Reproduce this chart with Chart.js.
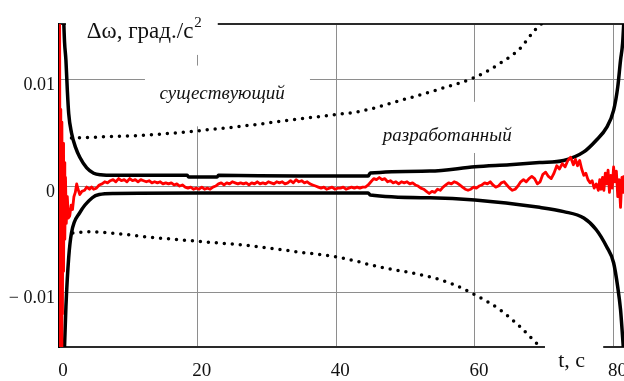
<!DOCTYPE html>
<html>
<head>
<meta charset="utf-8">
<script src="https://cdn.jsdelivr.net/npm/chart.js@4"></script>
<style>
  html, body { margin: 0; padding: 0; background: #fff; }
  canvas { display: block; }
</style>
</head>
<body>
<canvas id="c" width="624" height="381"></canvas>
<script>
// --- axis ticks ---
var xTicks = [0, 20, 40, 60, 80];
var yTicks = [-0.01, 0, 0.01];

// --- "разработанный": upper / lower bounds (solid black) ---
var devUpT = [0.6, 0.8, 1.0, 1.2, 1.4, 1.8, 2.4, 3.0, 4.0, 5.0, 6.0, 8.0, 12, 18.5, 18.7, 22.8, 23.0, 34.7, 44.6, 44.9, 53.5, 60.0, 65.0, 69.3, 72.8, 75.7, 77.5, 79.0, 80.0, 80.6, 81.0, 81.3, 81.6];
var devUpV = [0.0170, 0.0135, 0.0118, 0.0090, 0.0068, 0.0050, 0.0036, 0.0027, 0.0017, 0.0012, 0.00105, 0.0010, 0.00100, 0.00100, 0.00084, 0.00084, 0.00100, 0.00094, 0.00094, 0.00122, 0.00140, 0.00180, 0.00200, 0.00220, 0.00240, 0.00320, 0.00430, 0.00550, 0.00710, 0.00930, 0.01180, 0.01340, 0.0170];
var devLoT = [0.7, 1.0, 1.4, 1.8, 3.0, 4.8, 5.8, 8.0, 20.0, 44.6, 44.9, 53.5, 60.0, 69.3, 72.8, 75.7, 77.5, 79.0, 80.0, 80.6, 81.0, 81.3, 81.6];
var devLoV = [-0.0170, -0.0113, -0.0067, -0.0044, -0.0025, -0.0011, -0.0008, -0.0007, -0.00066, -0.00066, -0.00084, -0.0011, -0.0013, -0.0020, -0.0024, -0.0030, -0.0041, -0.0057, -0.0072, -0.0095, -0.0116, -0.0142, -0.0170];

// --- "существующий": upper / lower bounds (dotted black) ---
var exUpT = [1.8, 5.9, 13.1, 20.3, 27.5, 34.7, 39.9, 43.4, 49.1, 54.9, 60.0, 63.6, 66.5, 68.6, 70.3];
var exUpV = [0.0045, 0.0046, 0.0048, 0.0052, 0.0057, 0.0063, 0.0067, 0.0070, 0.0080, 0.0091, 0.0102, 0.0115, 0.0129, 0.0146, 0.0156];
var exLoT = [2.0, 4.4, 7.3, 13.1, 20.3, 27.5, 34.7, 40.5, 46.3, 52.0, 56.4, 60.0, 63.6, 66.5, 69.1];
var exLoV = [-0.0044, -0.0043, -0.0044, -0.0048, -0.0052, -0.0056, -0.0062, -0.0067, -0.0076, -0.0083, -0.0091, -0.0102, -0.0116, -0.0132, -0.0149];

// --- measured error (red) ---
var errT = [0.00, 0.06, 0.12, 0.18, 0.26, 0.34, 0.42, 0.50, 0.58, 0.66, 0.74, 0.84, 0.94, 1.05, 1.20, 1.35, 1.55, 1.75, 1.95, 2.15, 2.35, 2.55, 2.75, 3.0, 3.3, 3.7, 4.0, 4.4, 4.7, 5.0, 5.4, 5.8,
  6.2, 6.6, 7.0, 7.4, 7.8, 8.2, 8.6, 9.0, 9.4, 9.8, 10.2, 10.6, 11.0, 11.4, 11.8, 12.2, 12.6, 13.0, 13.4, 13.8, 14.2, 14.6, 15.0, 15.4, 15.8, 16.2, 16.6, 17.0, 17.4, 17.8,
  18.2, 18.6, 19.0, 19.4, 19.8, 20.2, 20.6, 21.0, 21.4, 21.8, 22.2, 22.6, 23.0, 23.4, 23.8, 24.2, 24.6, 25.0, 25.4, 25.8, 26.2, 26.6, 27.0, 27.4, 27.8, 28.2, 28.6, 29.0, 29.4, 29.8,
  30.2, 30.6, 31.0, 31.4, 31.8, 32.2, 32.6, 33.0, 33.4, 33.8, 34.2, 34.6, 35.0, 35.4, 35.8, 36.2, 36.6, 37.0, 37.4, 37.8, 38.2, 38.6, 39.0, 39.4, 39.8, 40.2, 40.6, 41.0, 41.4, 41.8,
  42.2, 42.6, 43.0, 43.4, 43.8, 44.2, 44.6, 45.0, 45.4, 45.8, 46.2, 46.6, 47.0, 47.4, 47.8, 48.2, 48.6, 49.0, 49.4, 49.8, 50.2, 50.6, 51.0, 51.4, 51.8, 52.2, 52.6, 53.0, 53.4, 53.8,
  54.2, 54.6, 55.0, 55.4, 55.8, 56.2, 56.6, 57.0, 57.4, 57.8, 58.2, 58.6, 59.0, 59.4, 59.8, 60.2, 60.6, 61.0, 61.4, 61.8, 62.2, 62.6, 63.0, 63.4, 63.8, 64.2, 64.6, 65.0, 65.4, 65.8,
  66.2, 66.6, 67.0, 67.4, 67.8, 68.2, 68.6, 69.0, 69.4, 69.8, 70.2, 70.6, 71.0, 71.4, 71.8, 72.2, 72.6, 73.0, 73.4, 73.8, 74.2, 74.5, 74.8, 75.1, 75.4, 75.7, 76.0, 76.3, 76.6, 76.9,
  77.2, 77.5, 77.8, 78.0, 78.2, 78.4, 78.6, 78.8, 79.0, 79.2, 79.4, 79.6, 79.8, 80.0, 80.2, 80.4, 80.6, 80.8, 81.0, 81.2, 81.4, 81.5];
var errV = [0.0165, -0.0165, 0.0160, -0.0165, 0.0072, -0.0165, 0.0060, -0.0120, 0.0040, -0.0080, 0.0022, -0.0050, 0.0008, -0.0035, -0.0010, -0.0030, -0.0028, -0.0018, -0.0022, -0.0010, -0.0006, 0.0002, -0.0003, -0.0008, -0.0005, -0.0004, -0.0001, -0.0003, -0.0001, -0.0003, -0.0002, 0.0001,
  0.0002, 0.0004, 0.0003, 0.0005, 0.0006, 0.0004, 0.0007, 0.0005, 0.0006, 0.0004, 0.0007, 0.0005, 0.0006, 0.0004, 0.0006, 0.0005, 0.0004, 0.0005, 0.0003, 0.0004, 0.0003, 0.0004, 0.0002, 0.0003, 0.0002, 0.0003, 0.0001, 0.0002, 0.0000, 0.0001,
  -0.0001, -0.0002, -0.0001, -0.0003, -0.0002, -0.0003, -0.0001, -0.0003, -0.0002, -0.0003, -0.0001, 0.0000, 0.0002, 0.0003, 0.0001, 0.0003, 0.0002, 0.0004, 0.0003, 0.0002, 0.0003, 0.0002, 0.0003, 0.0001, 0.0003, 0.0002, 0.0004, 0.0002, 0.0003, 0.0002,
  0.0004, 0.0003, 0.0002, 0.0004, 0.0003, 0.0004, 0.0002, 0.0003, 0.0005, 0.0003, 0.0006, 0.0004, 0.0005, 0.0003, 0.0004, 0.0002, 0.0001, 0.0000, -0.0001, -0.0002, -0.0001, -0.0003, -0.0002, -0.0001, -0.0003, -0.0002, -0.0002, -0.0001, -0.0003, -0.0002,
  -0.0001, -0.0002, -0.0001, -0.0002, -0.0001, -0.0001, 0.0001, 0.0004, 0.0007, 0.0006, 0.0008, 0.0006, 0.0007, 0.0004, 0.0005, 0.0003, 0.0004, 0.0002, 0.0004, 0.0003, 0.0004, 0.0002, 0.0003, 0.0001, 0.0000, -0.0002, -0.0003, -0.0005, -0.0007, -0.0005,
  -0.0006, -0.0003, -0.0004, -0.0001, 0.0001, 0.0003, 0.0002, 0.0004, 0.0003, 0.0001, -0.0001, -0.0003, -0.0004, -0.0003, -0.0001, -0.0002, 0.0000, 0.0001, 0.0003, 0.0002, 0.0004, 0.0001, -0.0001, 0.0000, 0.0003, 0.0004, 0.0001, -0.0002, -0.0004, -0.0003,
  0.0000, 0.0004, 0.0006, 0.0004, 0.0007, 0.0009, 0.0007, 0.0002, 0.0004, 0.0011, 0.0013, 0.0009, 0.0007, 0.0012, 0.0019, 0.0016, 0.0021, 0.0018, 0.0024, 0.0027, 0.0020, 0.0025, 0.0019, 0.0024, 0.0016, 0.0010, 0.0012, 0.0006, 0.0003, 0.0005,
  -0.0002, 0.0002, -0.0004, 0.0006, -0.0003, 0.0008, -0.0004, 0.0012, 0.0002, 0.0015, -0.0006, 0.0010, -0.0002, 0.0018, 0.0004, 0.0014, -0.0010, 0.0006, -0.0020, 0.0008, -0.0006, 0.0010];

// text labels (placed in data coordinates) and the white boxes Mathcad puts behind them
var notes = [
  { text: 'существующий', t: 14.5, v: 0.0082, font: 'italic 19px "Liberation Serif"' },
  { text: 'разработанный', t: 46.7, v: 0.0042, font: 'italic 19px "Liberation Serif"' },
  { text: 't, с', t: 72.0, v: -0.0170, font: '22px "Liberation Serif"' }
];
var masks = [
  { t0: 1.0, t1: 22.9, v0: 0.0190, v1: 0.0123 },   // title
  { t0: 12.4, t1: 36.2, v0: 0.0113, v1: 0.0056 },  // существующий
  { t0: 45.6, t1: 67.2, v0: 0.0079, v1: 0.0031 },  // разработанный
  { t0: 70.1, t1: 78.5, v0: -0.0146, v1: -0.0200 } // t, с
];

function pts(ts, vs) {
  return ts.map(function (t, i) { return { x: t, y: vs[i] }; });
}

var SERIF = '"Liberation Serif", "Times New Roman", serif';

var overlay = {
  id: 'overlay',
  beforeDatasetsDraw: function (chart) {
    var ctx = chart.ctx, a = chart.chartArea, xs = chart.scales.x, ys = chart.scales.y;
    ctx.save();
    // top frame line (broken by the title box below)
    ctx.strokeStyle = '#2a2a2a';
    ctx.lineWidth = 2;
    ctx.beginPath();
    ctx.moveTo(a.left, a.top);
    ctx.lineTo(a.right, a.top);
    ctx.stroke();
    ctx.fillStyle = '#fff';
    masks.forEach(function (b) {
      var x0 = xs.getPixelForValue(b.t0), x1 = xs.getPixelForValue(b.t1);
      var y0 = ys.getPixelForValue(b.v0), y1 = ys.getPixelForValue(b.v1);
      ctx.fillRect(x0, y0, x1 - x0, y1 - y0);
    });
    ctx.restore();
  },
  afterDatasetsDraw: function (chart) {
    var ctx = chart.ctx, xs = chart.scales.x, ys = chart.scales.y;
    ctx.save();
    ctx.fillStyle = '#111';
    ctx.textBaseline = 'alphabetic';
    ctx.textAlign = 'left';
    // title: Δω, град./с²
    var tx = xs.getPixelForValue(4.0), ty = ys.getPixelForValue(0.0139);
    ctx.font = '23px ' + SERIF;
    var main = 'Δω, град./с';
    ctx.fillText(main, tx, ty);
    var w = ctx.measureText(main).width;
    ctx.font = '15px ' + SERIF;
    ctx.fillText('2', tx + w + 1, ty - 11);
    notes.forEach(function (n) {
      ctx.font = n.font;
      ctx.fillText(n.text, xs.getPixelForValue(n.t), ys.getPixelForValue(n.v));
    });
    ctx.restore();
  }
};

new Chart(document.getElementById('c'), {
  type: 'line',
  data: {
    datasets: [
      { data: pts(errT, errV), borderColor: '#ff0000', borderWidth: 2.8, borderJoinStyle: 'round', tension: 0, order: 0 },
      { data: pts(devUpT, devUpV), borderColor: '#000', borderWidth: 3.5, cubicInterpolationMode: 'monotone', order: 1 },
      { data: pts(devLoT, devLoV), borderColor: '#000', borderWidth: 3.5, cubicInterpolationMode: 'monotone', order: 1 },
      { data: pts(exUpT, exUpV), borderColor: '#000', borderWidth: 3.5, borderDash: [0, 8], borderCapStyle: 'round', cubicInterpolationMode: 'monotone', order: 2 },
      { data: pts(exLoT, exLoV), borderColor: '#000', borderWidth: 3.5, borderDash: [0, 8], borderCapStyle: 'round', cubicInterpolationMode: 'monotone', order: 2 }
    ]
  },
  options: {
    responsive: false,
    animation: false,
    devicePixelRatio: 1,
    layout: { padding: { top: 24, left: 0, right: 0, bottom: 0 } },
    elements: { point: { radius: 0 }, line: { fill: false } },
    plugins: { legend: { display: false }, tooltip: { enabled: false } },
    scales: {
      x: {
        type: 'linear', min: 0, max: 81.5,
        afterBuildTicks: function (s) { s.ticks = xTicks.map(function (v) { return { value: v }; }); },
        afterFit: function (s) { s.height = 34; s.paddingLeft = 0; s.paddingRight = 0; },
        grid: { color: '#8e8e8e', lineWidth: 1, drawTicks: false },
        border: { display: true, color: '#2a2a2a', width: 2 },
        ticks: { color: '#111', font: { family: SERIF, size: 19 }, padding: 13, labelOffset: 4, maxRotation: 0, autoSkip: false,
          callback: function (v) { return String(v); } }
      },
      y: {
        type: 'linear', min: -0.0151, max: 0.0152,
        afterBuildTicks: function (s) { s.ticks = yTicks.map(function (v) { return { value: v }; }); },
        afterFit: function (s) { s.width = 59; s.paddingTop = 0; s.paddingBottom = 0; },
        grid: { color: '#8e8e8e', lineWidth: 1, drawTicks: false },
        border: { display: true, color: '#000', width: 2 },
        ticks: { color: '#111', font: { family: SERIF, size: 18 }, padding: 4, labelOffset: 6,
          callback: function (v) { return v < 0 ? '\u2212 ' + Math.abs(v) : String(v); } }
      }
    }
  },
  plugins: [overlay]
});
</script>
</body>
</html>
